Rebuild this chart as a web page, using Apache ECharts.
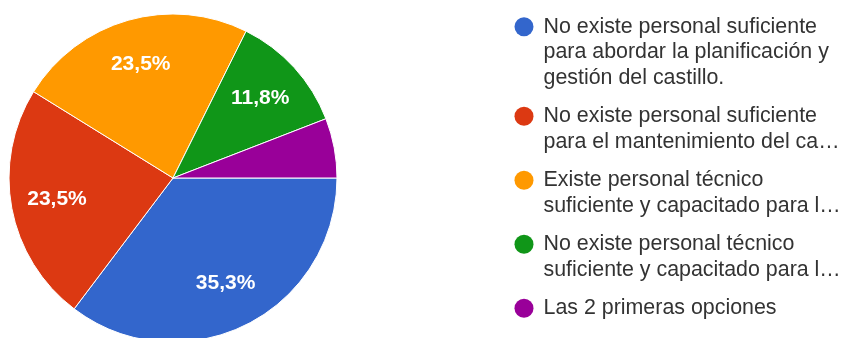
<!DOCTYPE html>
<html>
<head>
<meta charset="utf-8">
<script src="https://cdn.jsdelivr.net/npm/echarts@6/dist/echarts.min.js"></script>
<style>
html,body{margin:0;padding:0;background:#fff;}
#chart{width:850px;height:338px;}
</style>
</head>
<body>
<div id="chart"></div>
<script>
const categories = [
  'No existe personal suficiente\npara abordar la planificación y\ngestión del castillo.',
  'No existe personal suficiente\npara el mantenimiento del ca…',
  'Existe personal técnico\nsuficiente y capacitado para l…',
  'No existe personal técnico\nsuficiente y capacitado para l…',
  'Las 2 primeras opciones'
];
const values = [6, 4, 4, 2, 1];
const colors = ['#3366CC', '#DC3912', '#FF9900', '#109618', '#990099'];

const FONT = '"Liberation Sans", Arial, sans-serif';
const chart = echarts.init(document.getElementById('chart'), null, {renderer: 'canvas'});

const data = categories.map((n, i) => ({name: n, value: values[i], itemStyle: {color: colors[i]}}));

const rich = {
  t: {fontSize: 21.4, color: '#333', lineHeight: 25.5, fontFamily: FONT},
  ind: {width: 29, height: 19, lineHeight: 25.5},
  g: {width: 10, height: 19, lineHeight: 25.5}
};
colors.forEach((c, i) => {
  rich['d' + i] = {width: 19, height: 19, borderRadius: 9.5, backgroundColor: c, lineHeight: 25.5};
});

function fmtPct(p) {
  if (p.percent < 10) return '';
  return p.percent.toFixed(1).replace('.', ',') + '%';
}

chart.setOption({
  animation: false,
  backgroundColor: '#fff',
  legend: {
    orient: 'vertical',
    left: 508.5,
    top: 14,
    padding: 0,
    itemGap: 13,
    itemWidth: 0,
    itemHeight: 0,
    itemStyle: {opacity: 0},
    selectedMode: false,
    data: categories,
    formatter: function (name) {
      const i = categories.indexOf(name);
      const lines = name.split('\n');
      return lines.map((l, k) => (k === 0 ? '{d' + i + '|}{g|}' : '{ind|}') + '{t|' + l + '}').join('\n');
    },
    textStyle: {rich: rich, fontSize: 21.4, lineHeight: 25.5, fontFamily: FONT}
  },
  series: [
    {
      type: 'pie',
      center: [173, 178],
      radius: [0, 164],
      startAngle: 0,
      clockwise: true,
      label: {show: false},
      labelLine: {show: false},
      emphasis: {disabled: true},
      silent: true,
      itemStyle: {borderColor: '#fff', borderWidth: 1},
      data: data
    },
    {
      type: 'pie',
      center: [173, 178],
      radius: [66, 164],
      startAngle: 0,
      clockwise: true,
      silent: true,
      emphasis: {disabled: true},
      labelLine: {show: false},
      itemStyle: {color: 'rgba(0,0,0,0)'},
      label: {
        show: true,
        position: 'inside',
        formatter: fmtPct,
        color: '#fff',
        fontSize: 21,
        fontWeight: 'bold',
        fontFamily: FONT
      },
      data: categories.map((n, i) => ({name: n, value: values[i], itemStyle: {color: 'rgba(0,0,0,0)'}}))
    }
  ]
});
</script>
</body>
</html>
